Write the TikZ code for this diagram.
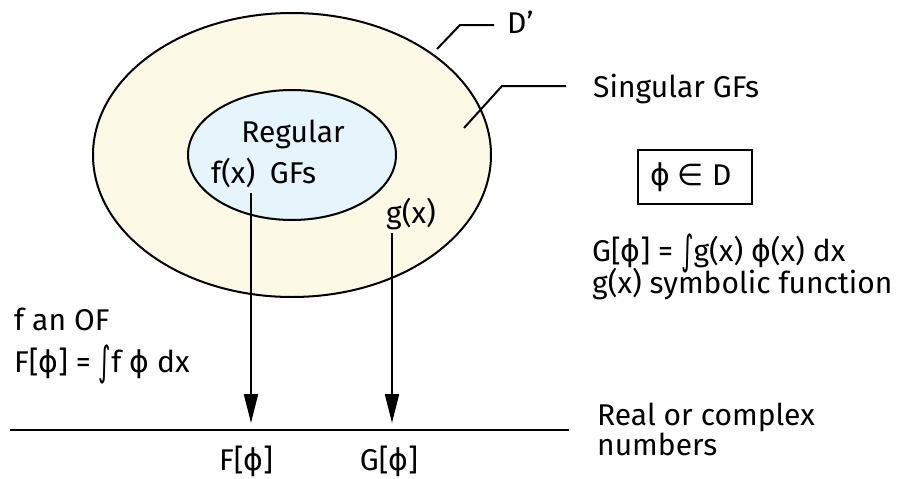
\documentclass[tikz,border=0pt]{standalone}
\usepackage{fontspec}
\setmainfont{Fira Sans}
\newfontfamily\grk{DejaVu Sans}
\usetikzlibrary{shapes.geometric,arrows.meta}
\newcommand\ph{{\grk ϕ}}
\newcommand\intg{\smash{\raisebox{-0.12em}{\scalebox{0.8}[1.35]{\grk ∫}}}}
\definecolor{outerfill}{HTML}{FDF9E7}
\definecolor{innerfill}{HTML}{E6F4FC}
\begin{document}
\begin{tikzpicture}[x=1pt,y=-1pt,
  lbl/.style={font=\fontsize{30}{32}\selectfont, inner sep=0pt, anchor=base west},
  lblc/.style={font=\fontsize{30}{32}\selectfont, inner sep=0pt, anchor=base},
  ln/.style={line width=2pt},
  arr/.style={line width=2pt,-{Triangle[length=29pt,width=14pt]}}]
\useasboundingbox (0,0) rectangle (903,479);
\node[draw, ln, ellipse, fill=outerfill, minimum width=398pt, minimum height=284pt, inner sep=0pt] (outer) at (292,155) {};
\node[draw, ln, ellipse, fill=innerfill, minimum width=208pt, minimum height=130pt, inner sep=0pt] (inner) at (292,155) {};
\node[lblc] (regular) at (293,142) {Regular};
\node[lblc] (gfs) at (293,183) {GFs};
\node[lbl] (fx) at (211,183) {f(x)};
\node[lbl] (gx) at (386,223) {g(x)};
% leaders
\node[lbl] (dprime) at (507,33) {D’};
\coordinate (d1) at (437,49);
\coordinate (d2) at (460,25);
\coordinate (d3) at (494,25);
\draw[ln] (d1) -- (d2) -- (d3);
\node[lbl] (sing) at (593,97) {Singular GFs};
\coordinate (s1) at (464,128);
\coordinate (s2) at (502,86);
\coordinate (s3) at (566,86);
\draw[ln] (s1) -- (s2) -- (s3);
% box
\node[draw, ln, minimum width=114pt, minimum height=54pt, inner sep=0pt] (box) at (695,177) {};
\node[lbl] (boxtxt) at (650,185) {\ph\ {\grk ∈} D};
% formulas
\node[lbl] (gform) at (592,261) {G[\ph] = \intg g(x) \ph(x) dx};
\node[lbl] (gsym) at (592,293) {g(x) symbolic function};
\node[lbl] (fof) at (14,330) {f an OF};
\node[lbl] (fform) at (14,372) {F[\ph] = \intg f \ph\ dx};
% real line
\coordinate (l1) at (10,430);
\coordinate (l2) at (569,430);
\draw[ln] (l1) -- (l2);
\node[lbl] (real) at (597,425) {Real or complex};
\node[lbl] (num) at (597,455) {numbers};
\node[lblc] (Fphi) at (246,470) {F[\ph]};
\node[lblc] (Gphi) at (389,470) {G[\ph]};
% arrows
\coordinate (fa1) at (251,193);
\coordinate (fa2) at (251,423);
\coordinate (ga1) at (392,233);
\coordinate (ga2) at (392,423);
\draw[arr] (fa1) -- (fa2);
\draw[arr] (ga1) -- (ga2);
\end{tikzpicture}
\end{document}
